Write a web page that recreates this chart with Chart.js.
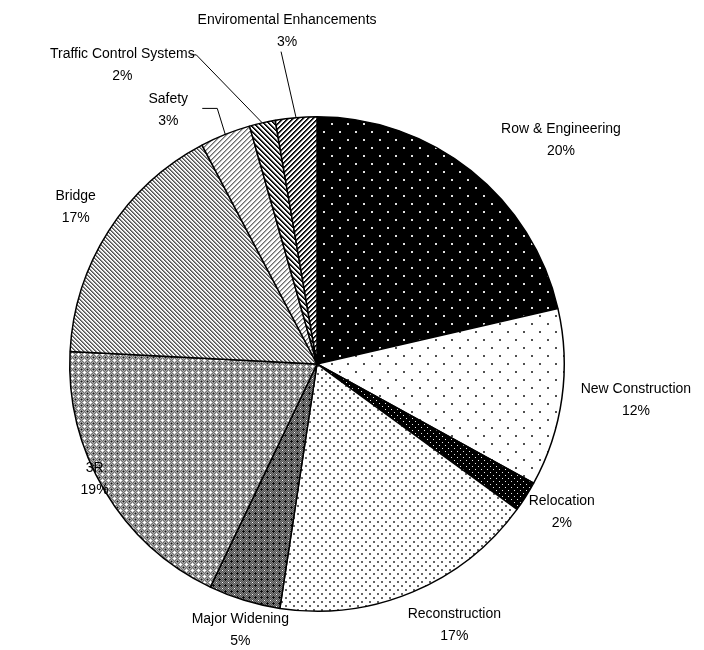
<!DOCTYPE html>
<html>
<head>
<meta charset="utf-8">
<script src="https://cdn.jsdelivr.net/npm/chart.js@4.4.1/dist/chart.umd.min.js"></script>
<style>
    html, body { margin: 0; padding: 0; background: #fff; }
    #wrap { width: 704px; height: 650px; }
</style>
</head>
<body>
<div id="wrap"><canvas id="pieChart" width="704" height="650"></canvas></div>
<script>
// slice names, clockwise from 12 o'clock
const categories = [
    "Row & Engineering", "New Construction", "Relocation", "Reconstruction",
    "Major Widening", "3R", "Bridge", "Safety",
    "Traffic Control Systems", "Enviromental Enhancements"
];
// shares
const shares = [21.4, 11.6, 2.0, 17.4, 4.7, 18.7, 16.5, 3.3, 1.7, 2.7];
// percentages as printed on the labels
const pctLabels = ["20%", "12%", "2%", "17%", "5%", "19%", "17%", "3%", "2%", "3%"];

// label placement: offset from the slice's outer mid point
const labelOffsets = [
    [90, -30], [74, 2], [36, 16], [42, 33], [-4, 30],
    [-10, -11], [-33, -24], [-57, -24], [-140, -58], [-9, -86]
];
// leader lines (relative to the outer mid point), only for the thin slices
const leaders = {
    7: [[0, 0], [-8, -26], [-23, -26]],
    8: [[0, 0], [-66, -68], [-72, -68]],
    9: [[0, 0], [-15, -66]]
};

function makePattern(w, h, fn) {
    const c = document.createElement("canvas");
    c.width = w; c.height = h;
    const cx = c.getContext("2d");
    const img = cx.createImageData(w, h);
    for (let y = 0; y < h; y++) {
        for (let x = 0; x < w; x++) {
            const v = fn(x, y);
            const i = (y * w + x) * 4;
            img.data[i] = img.data[i + 1] = img.data[i + 2] = v;
            img.data[i + 3] = 255;
        }
    }
    cx.putImageData(img, 0, 0);
    return document.getElementById("pieChart").getContext("2d").createPattern(c, "repeat");
}

const dot = (x, y, px, py) => (x === px || x === px + 1) && (y === py || y === py + 1);

const fills = [
    // black, sparse white dots
    makePattern(16, 16, (x, y) => (dot(x, y, 3, 3) || dot(x, y, 11, 11)) ? 225 : 0),
    // white, sparse dark dots
    makePattern(16, 16, (x, y) => (dot(x, y, 3, 3) || dot(x, y, 11, 11)) ? 80 : 255),
    // black, dense white dots
    makePattern(6, 6, (x, y) => ((x === 1 && y === 1) || (x === 4 && y === 4)) ? 235 : 0),
    // white, dense grey dots
    makePattern(8, 8, (x, y) => (dot(x, y, 1, 1) || dot(x, y, 5, 5)) ? 100 : 255),
    // dark lattice
    makePattern(6, 6, (x, y) => {
        if (x === 3 && y === 3) return 0;
        if ((x === 3 && (y === 2 || y === 4)) || (y === 3 && (x === 2 || x === 4))) return 20;
        if (x === 0 && y === 0) return 255;
        return (x + y) % 2 === 0 ? 130 : 80;
    }),
    // light lattice
    makePattern(6, 6, (x, y) => {
        if (x === 3 && y === 3) return 20;
        if ((x === 0 && y === 0) || (x === 0 && (y === 1 || y === 5)) || (y === 0 && (x === 1 || x === 5))) return 255;
        return (x + y) % 2 === 0 ? 175 : 110;
    }),
    // light "\" stripes
    makePattern(4, 4, (x, y) => [80, 140, 235, 255][(x - y + 40) % 4]),
    // light "/" stripes
    makePattern(5, 5, (x, y) => [110, 170, 240, 255, 255][(x + y) % 5]),
    // dark "\" stripes
    makePattern(5, 5, (x, y) => [0, 40, 170, 255, 255][(x - y + 50) % 5]),
    // dark "/" stripes
    makePattern(5, 5, (x, y) => [0, 40, 170, 255, 255][(x + y) % 5])
];

const labelPlugin = {
    id: "sliceLabels",
    afterDraw(chart) {
        const ctx = chart.ctx;
        const arcs = chart.getDatasetMeta(0).data;
        ctx.save();
        ctx.font = "14px 'Liberation Sans', Arial, sans-serif";
        ctx.fillStyle = "#000";
        ctx.textAlign = "center";
        ctx.textBaseline = "middle";
        arcs.forEach((arc, i) => {
            const p = arc.getProps(["x", "y", "startAngle", "endAngle", "outerRadius"], true);
            const mid = (p.startAngle + p.endAngle) / 2;
            const rx = p.x + Math.cos(mid) * p.outerRadius;
            const ry = p.y + Math.sin(mid) * p.outerRadius;
            if (leaders[i]) {
                ctx.beginPath();
                ctx.strokeStyle = "#000";
                ctx.lineWidth = 1;
                leaders[i].forEach(([dx, dy], k) => {
                    if (k === 0) ctx.moveTo(rx + dx, ry + dy);
                    else ctx.lineTo(rx + dx, ry + dy);
                });
                ctx.stroke();
            }
            const lx = rx + labelOffsets[i][0];
            const ly = ry + labelOffsets[i][1];
            ctx.fillText(categories[i], lx, ly - 11);
            ctx.fillText(pctLabels[i], lx, ly + 11);
        });
        ctx.restore();
    }
};

new Chart(document.getElementById("pieChart"), {
    type: "pie",
    data: {
        labels: categories,
        datasets: [{
            data: shares,
            backgroundColor: fills,
            borderColor: "#000",
            borderWidth: 1.5
        }]
    },
    options: {
        responsive: false,
        animation: false,
        layout: { padding: { left: 69, right: 139, top: 116, bottom: 38 } },
        plugins: {
            legend: { display: false },
            tooltip: { enabled: false }
        }
    },
    plugins: [labelPlugin]
});
</script>
</body>
</html>
